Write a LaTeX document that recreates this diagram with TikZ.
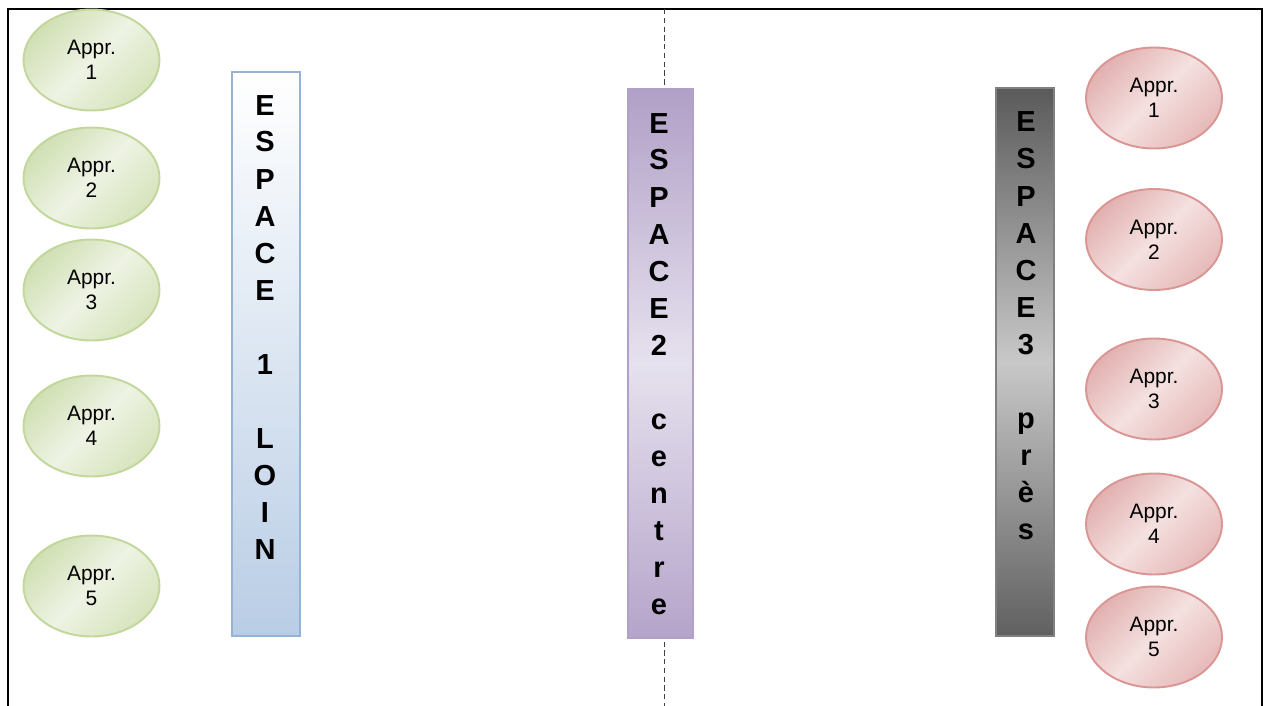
\documentclass[tikz,border=0pt]{standalone}
\usepackage{fontspec}
\setmainfont{Liberation Sans}
\usetikzlibrary{shapes.geometric}
\definecolor{greenlight}{HTML}{EEF3E4}
\definecolor{greendark}{HTML}{D0E0B3}
\definecolor{greendarkb}{HTML}{D6E4BC}
\definecolor{greenborder}{HTML}{C3D69B}
\definecolor{redlight}{HTML}{F4E1E0}
\definecolor{reddark}{HTML}{E2B1B0}
\definecolor{reddarkb}{HTML}{E6BAB9}
\definecolor{redborder}{HTML}{D99694}
\definecolor{blueborder}{HTML}{95B3D7}
\definecolor{bluedark}{HTML}{B9CDE5}
\definecolor{purpledark}{HTML}{B1A0C7}
\definecolor{purpledarkb}{HTML}{B5A4CA}
\definecolor{purplelight}{HTML}{E6E1EE}
\definecolor{greydark}{HTML}{5A5A5A}
\definecolor{greydarkb}{HTML}{606060}
\definecolor{greylight}{HTML}{C8C8C8}
\tikzset{
  appr/.style={ellipse, line width=1.1pt, minimum width=2.72cm, minimum height=2.02cm,
    align=center, font=\fontsize{11.9}{14.2}\selectfont},
  apprgreen/.style={appr, draw=greenborder, top color=greendark, bottom color=greendarkb,
    middle color=greenlight, shading angle=45},
  apprred/.style={appr, draw=redborder, top color=reddark, bottom color=reddarkb,
    middle color=redlight, shading angle=45},
  espace/.style={rectangle, line width=1.1pt, inner sep=0pt},
  letter/.style={anchor=base, inner sep=0pt, font=\fontsize{16.5}{20}\selectfont\bfseries}
}
\begin{document}
\begin{tikzpicture}[x=0.02cm, y=-0.02cm]
\useasboundingbox (0,0) rectangle (1271,706);
% frame and middle line
\draw[line width=1.1pt] (8,706) -- (8,9) -- (1262,9) -- (1262,706);
\coordinate (midtop) at (664,9);
\coordinate (midbot) at (664,706);
\draw[densely dashed, black!75, line width=0.5pt] (midtop) -- (midbot);
% the three spaces
\node[espace, draw=blueborder, top color=white, bottom color=bluedark,
  minimum width=1.36cm, minimum height=11.28cm] (espace1) at (266,354) {};
\node[espace, draw=purpledark, top color=purpledark, bottom color=purpledarkb, middle color=purplelight,
  minimum width=1.30cm, minimum height=10.98cm] (espace2) at (660.5,363.5) {};
\node[espace, draw=black!50, top color=greydark, bottom color=greydarkb, middle color=greylight,
  minimum width=1.16cm, minimum height=10.96cm] (espace3) at (1025,362) {};
\foreach \l [count=\i] in {E,S,P,A,C,E,,1,,L,O,I,N}
  \node[letter] (lettera\i) at (265,{115+37*(\i-1)}) {\l};
\foreach \l [count=\i] in {E,S,P,A,C,E,2,,c,e,n,t,r,e}
  \node[letter] (letterb\i) at (659,{133+37*(\i-1)}) {\l};
\foreach \l [count=\i] in {E,S,P,A,C,E,3,,p,r,è,s}
  \node[letter] (letterc\i) at (1026,{132+37*(\i-1)}) {\l};
% approaches
\node[apprgreen] (ga1) at (91.5,60) {Appr.\\1};
\node[apprgreen] (ga2) at (91.5,178) {Appr.\\2};
\node[apprgreen] (ga3) at (91.5,290) {Appr.\\3};
\node[apprgreen] (ga4) at (91.5,426) {Appr.\\4};
\node[apprgreen] (ga5) at (91.5,586) {Appr.\\5};
\node[apprred] (ra1) at (1154,98) {Appr.\\1};
\node[apprred] (ra2) at (1154,239.5) {Appr.\\2};
\node[apprred] (ra3) at (1154,389) {Appr.\\3};
\node[apprred] (ra4) at (1154,524) {Appr.\\4};
\node[apprred] (ra5) at (1154,637) {Appr.\\5};
\end{tikzpicture}
\end{document}
